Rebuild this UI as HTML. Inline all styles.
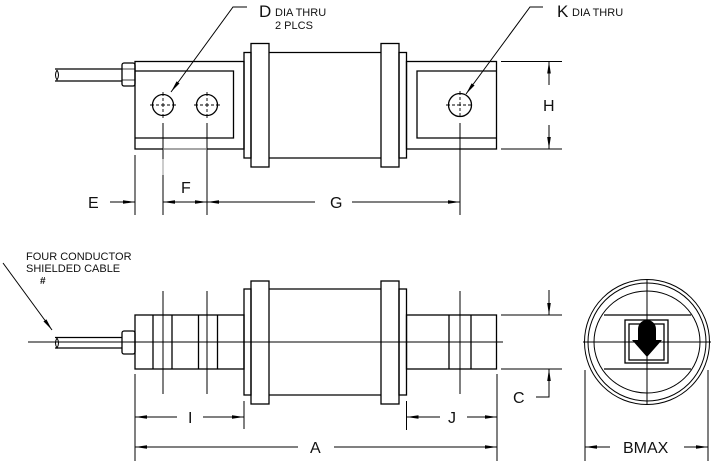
<!DOCTYPE html>
<html><head><meta charset="utf-8"><style>
html,body{margin:0;padding:0;background:#fff}
svg{display:block}
text{font-family:"Liberation Sans",Arial,sans-serif;fill:#111}
</style></head><body>
<svg width="712" height="461" viewBox="0 0 712 461" xmlns="http://www.w3.org/2000/svg">
<defs>
<marker id="ar" markerWidth="12" markerHeight="6" refX="12" refY="3" orient="auto" markerUnits="userSpaceOnUse">
<path d="M0,1.2 L12,3 L0,4.8 Z" fill="#000"/></marker>
</defs>
<g fill="none" stroke="#000" stroke-width="1.3">
<!-- TOP VIEW -->
<path d="M55,69 H122 M55,81 H122"/>
<path d="M57,70 q-3,5 0,10 q3,-5 0,-10" stroke-width="1"/>
<rect x="122" y="63" width="13" height="23" rx="2"/>
<path d="M122,69 H135 M122,80 H135" stroke-width="0.8"/>
<rect x="135" y="61.5" width="109" height="87.5"/>
<path d="M135,71 H233.5 V138 H135"/>
<rect x="244" y="52.5" width="7" height="105.5"/>
<rect x="251" y="43.5" width="18" height="123.5"/>
<path d="M269,52.5 H381 M269,158 H381"/>
<rect x="381" y="43.5" width="18" height="123.5"/>
<rect x="399" y="52.5" width="7.5" height="105.5"/>
<rect x="406.5" y="61.5" width="90" height="87.5"/>
<path d="M496.5,71 H417 V138 H496.5"/>
<circle cx="163" cy="105" r="10.5"/>
<circle cx="207" cy="105" r="10.5"/>
<circle cx="460" cy="105" r="11.5"/>
<g stroke-width="0.9">
<path d="M150,105 H176 M163,92 V118" stroke-dasharray="4,2,3,2"/>
<path d="M194,105 H220 M207,92 V118" stroke-dasharray="4,2,3,2"/>
<path d="M446,105 H474 M460,91 V119" stroke-dasharray="4,2,3,2"/>
</g>
<!-- leaders -->
<path d="M247,7 H233 L171,92" stroke-width="1" marker-end="url(#ar)"/>
<path d="M543,7 H530 L466,94" stroke-width="1" marker-end="url(#ar)"/>
<!-- top dims -->
<path d="M135,155 V215 M163,123 V215 M207,123 V215 M460,123 V215" stroke-width="1"/>
<path d="M163,159 V175" stroke="#999" stroke-width="1"/>
<path d="M163,149 H207" stroke="#999" stroke-width="1"/>
<path d="M110,202 H135" stroke-width="1" marker-end="url(#ar)"/>
<path d="M185,202 H163" stroke-width="1" marker-end="url(#ar)"/>
<path d="M185,202 H207" stroke-width="1" marker-end="url(#ar)"/>
<path d="M315,202 H207" stroke-width="1" marker-end="url(#ar)"/>
<path d="M352,202 H460" stroke-width="1" marker-end="url(#ar)"/>
<path d="M501,61.5 H562 M501,149 H562" stroke-width="1"/>
<path d="M549,85 V61.5" stroke-width="1" marker-end="url(#ar)"/>
<path d="M549,125 V149" stroke-width="1" marker-end="url(#ar)"/>

<!-- SIDE VIEW -->
<path d="M28,342 H503" stroke-width="1"/>
<path d="M55,337.5 H122 M55,348 H122"/>
<path d="M57,338 q-3,5 0,10 q3,-5 0,-10" stroke-width="1"/>
<rect x="122" y="331" width="13" height="23" rx="2"/>
<rect x="135" y="315" width="109" height="54"/>
<path d="M153,315 V369 M172,315 V369 M198.5,315 V369 M217.5,315 V369"/>
<path d="M163,291 V394 M207,291 V394" stroke-width="1"/>
<rect x="244" y="289" width="7" height="106"/>
<rect x="251" y="281" width="18" height="123"/>
<path d="M269,289 H381 M269,395 H381"/>
<rect x="381" y="281" width="18" height="123"/>
<rect x="399" y="289" width="7.5" height="106"/>
<rect x="406.5" y="315" width="90" height="54"/>
<path d="M449,315 V369 M471,315 V369"/>
<path d="M460,291 V394" stroke-width="1"/>
<path d="M3,263 L52,330" stroke-width="1" marker-end="url(#ar)"/>
<!-- side dims -->
<path d="M135,374 V461 M244,401 V429 M406.5,401 V430 M497,374 V461" stroke-width="1"/>
<path d="M177,417 H135" stroke-width="1" marker-end="url(#ar)"/>
<path d="M203,417 H244" stroke-width="1" marker-end="url(#ar)"/>
<path d="M440,417 H406.5" stroke-width="1" marker-end="url(#ar)"/>
<path d="M467,417 H497" stroke-width="1" marker-end="url(#ar)"/>
<path d="M298,447 H135" stroke-width="1" marker-end="url(#ar)"/>
<path d="M334,447 H497" stroke-width="1" marker-end="url(#ar)"/>
<path d="M501,315 H562 M501,369 H562" stroke-width="1"/>
<path d="M549,290 V315" stroke-width="1" marker-end="url(#ar)"/>
<path d="M536,397 H549 V369" stroke-width="1" marker-end="url(#ar)"/>

<!-- END VIEW -->
<circle cx="647" cy="342" r="62.5" stroke-width="1"/>
<circle cx="647" cy="342" r="59" stroke-width="1"/>
<ellipse cx="647" cy="342" rx="53" ry="51" stroke-width="1"/>
<path d="M604,315 H691 M604,369 H691"/>
<rect x="625" y="320" width="43" height="43"/>
<rect x="629" y="324" width="35" height="36"/>
<path d="M583,342 H711 M647,280 V404" stroke-width="1"/>
<path d="M585,370 V461 M708,370 V461" stroke-width="1"/>
<path d="M610,447 H585" stroke-width="1" marker-end="url(#ar)"/>
<path d="M684,447 H708" stroke-width="1" marker-end="url(#ar)"/>
</g>
<path d="M638,340 V329 a9,9 0 0 1 18,0 V340 H662 L647,357 L632,340 Z" fill="#000"/>

<!-- TEXT -->
<text x="259" y="17" font-size="17">D</text>
<text x="275" y="16" font-size="11">DIA THRU</text>
<text x="275" y="29" font-size="11">2 PLCS</text>
<text x="557" y="17" font-size="17">K</text>
<text x="572" y="16" font-size="11">DIA THRU</text>
<text x="88" y="208" font-size="16">E</text>
<text x="181" y="193" font-size="16">F</text>
<text x="330" y="208" font-size="16">G</text>
<text x="543" y="111" font-size="16">H</text>
<text x="26" y="260" font-size="11">FOUR CONDUCTOR</text>
<text x="26" y="272" font-size="11">SHIELDED CABLE</text>
<text x="40" y="284" font-size="10" font-weight="bold">#</text>
<text x="188" y="423" font-size="16">I</text>
<text x="448" y="423" font-size="16">J</text>
<text x="310" y="453" font-size="16">A</text>
<text x="513" y="403" font-size="16">C</text>
<text x="623" y="453" font-size="16">BMAX</text>
</svg>
</body></html>
